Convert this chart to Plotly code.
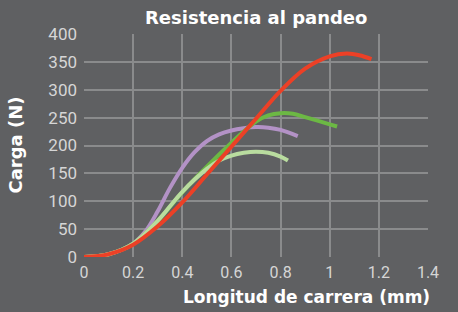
import plotly.graph_objects as go

red_x = [0, 0.1, 0.2, 0.3, 0.4, 0.5, 0.6, 0.7, 0.8, 0.9, 1.0, 1.07, 1.12, 1.17]
red_y = [0, 5, 22, 55, 98, 148, 198, 248, 298, 338, 360, 365, 362, 355]

green_x = [0, 0.1, 0.2, 0.3, 0.4, 0.5, 0.6, 0.65, 0.7, 0.75, 0.8, 0.85, 0.9, 1.0, 1.03]
green_y = [0, 5, 24, 65, 116, 162, 205, 225, 243, 254, 258, 257, 251, 238, 234]

lgreen_x = [0, 0.1, 0.2, 0.3, 0.4, 0.5, 0.55, 0.6, 0.65, 0.7, 0.75, 0.8, 0.83]
lgreen_y = [0, 5, 24, 65, 117, 158, 173, 182, 187, 189, 187, 180, 173]

purple_x = [0, 0.1, 0.2, 0.25, 0.3, 0.35, 0.4, 0.45, 0.5, 0.55, 0.6, 0.65, 0.7, 0.75, 0.8, 0.87]
purple_y = [0, 5, 24, 46, 82, 124, 160, 188, 208, 220, 227, 231, 233, 232, 228, 217]

x_ticks = [0, 0.2, 0.4, 0.6, 0.8, 1, 1.2, 1.4]
x_labels = ["0", "0.2", "0.4", "0.6", "0.8", "1", "1.2", "1.4"]
y_ticks = [0, 50, 100, 150, 200, 250, 300, 350, 400]

BG = "#5f6062"
GRID = "#8a8b8c"
TICK = "#d6d6d6"
TFONT = "DejaVu Sans, Liberation Sans, sans-serif"

fig = go.Figure()
series = [
    (purple_x, purple_y, "#b392c6"),
    (green_x, green_y, "#6cb844"),
    (lgreen_x, lgreen_y, "#b9dc9f"),
    (red_x, red_y, "#ec4026"),
]
for xs, ys, c in series:
    fig.add_trace(go.Scatter(x=xs, y=ys, mode="lines",
                             line=dict(color=c, width=4, shape="spline", smoothing=1.0),
                             showlegend=False, hoverinfo="skip"))

fig.update_layout(
    width=458, height=312,
    paper_bgcolor=BG, plot_bgcolor=BG,
    margin=dict(l=84, r=30, t=34, b=55),
    showlegend=False,
    font=dict(family="Roboto, DejaVu Sans, sans-serif", color=TICK, size=16),
)
fig.update_xaxes(range=[0, 1.4], tickvals=x_ticks, ticktext=x_labels,
                 showgrid=True, gridcolor=GRID, gridwidth=1.5,
                 zeroline=False, showline=False, ticks="", ticklabelstandoff=4,
                 tickfont=dict(size=16, color=TICK))
fig.update_yaxes(range=[0, 400], tickvals=y_ticks,
                 showgrid=True, gridcolor=GRID, gridwidth=1.5,
                 zeroline=False, showline=False, ticks="", ticklabelstandoff=6,
                 tickfont=dict(size=17, color=TICK))

fig.add_annotation(text="<b>Resistencia al pandeo</b>", xref="paper", yref="paper",
                   x=0.5, y=1, yshift=17, xanchor="center", yanchor="middle",
                   showarrow=False, font=dict(size=18, color="white", family=TFONT))
fig.add_annotation(text="<b>Longitud de carrera (mm)</b>", xref="paper", yref="paper",
                   x=1, xshift=4, y=0, yshift=-40, xanchor="right", yanchor="middle",
                   showarrow=False, font=dict(size=17, color="white", family=TFONT))
fig.add_annotation(text="<b>Carga (N)</b>", xref="paper", yref="paper",
                   x=0, xshift=-69, y=0.5, xanchor="center", yanchor="middle",
                   textangle=-90, showarrow=False,
                   font=dict(size=18, color="white", family=TFONT))

fig.write_html("out.html", config={"displayModeBar": False},
               post_script="document.body.style.margin='0';")
